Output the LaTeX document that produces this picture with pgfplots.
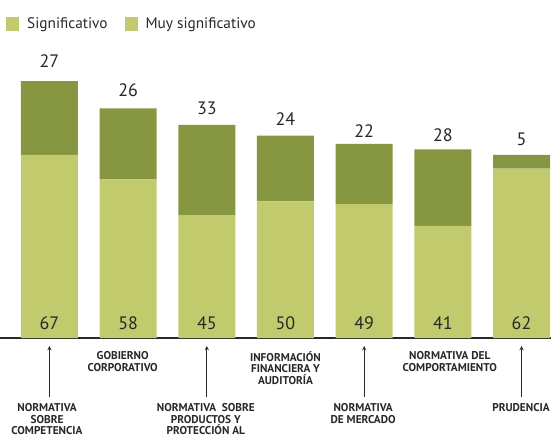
\documentclass[border=0pt]{standalone}
\usepackage{fontspec}
\setmainfont{PT Sans}
\usepackage{pgfplots}
\pgfplotsset{compat=1.18}
\definecolor{lightg}{RGB}{194,202,110}
\definecolor{darkg}{RGB}{135,150,64}
\definecolor{txt}{RGB}{40,40,40}
\tikzset{
  valnode/.style={anchor=base, font=\fontsize{18}{20}\selectfont, text=txt, inner sep=0pt},
  catlab/.style={align=center, font=\fontsize{11.3}{11.8}\selectfont\bfseries, text=txt, anchor=north, inner sep=0pt},
}
\begin{document}
\begin{tikzpicture}
\begin{axis}[
  scale only axis,
  width=551pt, height=293pt,
  at={(0,0)}, anchor=south west,
  ybar stacked, bar width=57pt,
  xmin=-0.629, xmax=6.375, ymin=0, ymax=107.2,
  axis x line=bottom, axis y line=none,
  x axis line style={-, line width=1.4pt, draw=txt},
  xtick=\empty, ytick=\empty,
  clip=false,
  legend style={at={(0,1)}, anchor=west, xshift=3pt, yshift=21pt, draw=none, fill=none,
    font=\fontsize{15.3}{17}\selectfont\color{txt}, legend columns=2,
    /tikz/every even column/.append style={column sep=15pt}},
  legend image code/.code={\fill[#1] (0pt,-7pt) rectangle (13pt,7pt); \path (19pt,0pt);},
  legend entries={Significativo, Muy significativo},
]
\addlegendimage{fill=lightg, draw=none}
\addlegendimage{fill=lightg, draw=none}
\addplot[fill=lightg, draw=none] coordinates {(0,67) (1,58) (2,45) (3,50) (4,49) (5,41) (6,62)};
\addplot[fill=darkg, draw=none] coordinates {(0,27) (1,26) (2,33) (3,24) (4,22) (5,28) (6,5)};
\coordinate (b0) at (axis cs:0,0);
\coordinate (b1) at (axis cs:1,0);
\coordinate (b2) at (axis cs:2,0);
\coordinate (b3) at (axis cs:3,0);
\coordinate (b4) at (axis cs:4,0);
\coordinate (b5) at (axis cs:5,0);
\coordinate (b6) at (axis cs:6,0);
\coordinate (t0) at (axis cs:0,94);
\coordinate (t1) at (axis cs:1,84);
\coordinate (t2) at (axis cs:2,78);
\coordinate (t3) at (axis cs:3,74);
\coordinate (t4) at (axis cs:4,71);
\coordinate (t5) at (axis cs:5,69);
\coordinate (t6) at (axis cs:6,67);
\end{axis}
% bottom values
\node[valnode] at ([yshift=9pt]b0) {67};
\node[valnode] at ([yshift=9pt]b1) {58};
\node[valnode] at ([yshift=9pt]b2) {45};
\node[valnode] at ([yshift=9pt]b3) {50};
\node[valnode] at ([yshift=9pt]b4) {49};
\node[valnode] at ([yshift=9pt]b5) {41};
\node[valnode] at ([yshift=9pt]b6) {62};
% top values
\node[valnode] at ([yshift=13.5pt]t0) {27};
\node[valnode] at ([yshift=12.3pt]t1) {26};
\node[valnode] at ([yshift=10pt]t2) {33};
\node[valnode] at ([yshift=10pt]t3) {24};
\node[valnode] at ([yshift=6pt]t4) {22};
\node[valnode] at ([yshift=7.5pt]t5) {28};
\node[valnode] at ([yshift=9.3pt]t6) {5};
% arrows
\draw[-stealth, line width=0.9pt, draw=txt] ([yshift=-59pt]b0) -- ([yshift=-8pt]b0);
\draw[-stealth, line width=0.9pt, draw=txt] ([yshift=-59pt]b2) -- ([yshift=-8pt]b2);
\draw[-stealth, line width=0.9pt, draw=txt] ([yshift=-59pt]b4) -- ([yshift=-8pt]b4);
\draw[-stealth, line width=0.9pt, draw=txt] ([yshift=-59pt]b6) -- ([yshift=-8pt]b6);
% category labels
\node[catlab] at ([yshift=-65pt, xshift=-2.5pt]b0) {NORMATIVA\\SOBRE\\COMPETENCIA};
\node[catlab] at ([yshift=-13pt, xshift=-5.5pt]b1) {GOBIERNO\\CORPORATIVO};
\node[catlab] at ([yshift=-65pt, xshift=-1pt]b2) {NORMATIVA\ \ SOBRE\\PRODUCTOS Y\\PROTECCIÓN AL};
\node[catlab] at ([yshift=-13pt]b3) {INFORMACIÓN\\FINANCIERA Y\\AUDITORÍA};
\node[catlab] at ([yshift=-65pt, xshift=-1pt]b4) {NORMATIVA\\DE MERCADO};
\node[catlab] at ([yshift=-13pt, xshift=7pt]b5) {NORMATIVA DEL\\COMPORTAMIENTO};
\node[catlab] at ([yshift=-65pt, xshift=-0.5pt]b6) {PRUDENCIA};
\pgfresetboundingbox
\path (0pt,-101pt) rectangle (551pt,338pt);
\end{tikzpicture}
\end{document}
